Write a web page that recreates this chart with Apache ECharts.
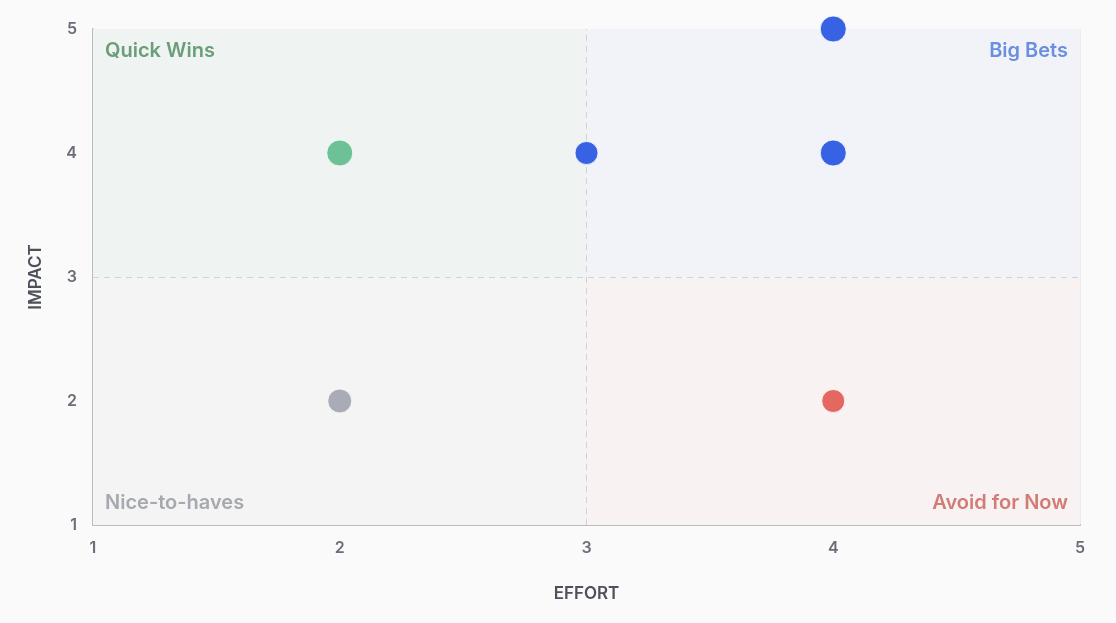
<!DOCTYPE html>
<html>
<head>
<meta charset="utf-8">
<script src="https://cdn.jsdelivr.net/npm/echarts@6/dist/echarts.min.js"></script>
<style>
  html, body { margin: 0; padding: 0; background: #fafafa; }
  #chart { width: 1116px; height: 623px; }
</style>
</head>
<body>
<div id="chart"></div>
<script>
// points: effort (x), impact (y)
const effort = [2, 3, 4, 4, 2, 4]
const impact = [4, 4, 5, 4, 2, 2]
const pointSize = [26, 23, 26, 26, 24, 23]

const quadrantNames = ['Quick Wins', 'Big Bets', 'Nice-to-haves', 'Avoid for Now']
const quadrantText = ['#6a9e7a', '#6b8fe0', '#a7a9b0', '#d27c76']
const quadrantFill = ['#eff3f1', '#f2f3f9', '#f4f4f5', '#f8f2f2']
const pointColor = ['#6cc197', '#3862e4', '#a9acb6', '#e36862']

const axisTicks = [1, 2, 3, 4, 5]
const midX = 3
const midY = 3

function quadrantOf(x, y) {
  if (y >= midY) return x < midX ? 0 : 1
  return x < midX ? 2 : 3
}

const chart = echarts.init(document.getElementById('chart'))

const labelPos = ['insideTopLeft', 'insideTopRight', 'insideBottomLeft', 'insideBottomRight']
const boxes = [
  [[1, 5], [midX, midY]],
  [[midX, 5], [5, midY]],
  [[1, midY], [midX, 1]],
  [[midX, midY], [5, 1]]
]

// one markArea per quadrant so each label keeps its own position
const quadrantSeries = boxes.map((box, i) => ({
  type: 'scatter',
  data: [],
  silent: true,
  markArea: {
    silent: true,
    z: 1,
    itemStyle: { color: quadrantFill[i] },
    label: {
      show: true, position: labelPos[i],
      color: quadrantText[i], fontSize: 20, fontWeight: 600,
      fontFamily: 'Inter', distance: 12
    },
    data: [[
      { name: quadrantNames[i], xAxis: box[0][0], yAxis: box[0][1] },
      { xAxis: box[1][0], yAxis: box[1][1] }
    ]]
  }
}))

const scatterData = effort.map((x, i) => {
  const q = quadrantOf(x, impact[i])
  return {
    value: [x, impact[i]],
    symbolSize: pointSize[i],
    itemStyle: { color: pointColor[q] }
  }
})

const option = {
  backgroundColor: '#fafafa',
  animation: false,
  grid: { left: 93, right: 36, top: 29, bottom: 98 },
  xAxis: {
    type: 'value', min: 1, max: 5, interval: 1,
    name: 'EFFORT', nameLocation: 'middle', nameGap: 60,
    nameTextStyle: { color: '#4e515b', fontSize: 17, fontWeight: 600, fontFamily: 'Inter' },
    axisLine: { show: true, lineStyle: { color: '#b9bcc3', width: 2 } },
    axisTick: { show: false },
    axisLabel: { color: '#6b6e78', fontSize: 16, fontWeight: 600, fontFamily: 'Inter', margin: 15 },
    splitLine: { show: true, lineStyle: { color: '#ebebeb' } }
  },
  yAxis: {
    type: 'value', min: 1, max: 5, interval: 1,
    name: 'IMPACT', nameLocation: 'middle', nameGap: 49, nameRotate: 90,
    nameTextStyle: { color: '#4e515b', fontSize: 17, fontWeight: 600, fontFamily: 'Inter' },
    axisLine: { show: true, lineStyle: { color: '#b9bcc3', width: 2 } },
    axisTick: { show: false },
    axisLabel: {
      color: '#6b6e78', fontSize: 16, fontWeight: 600, fontFamily: 'Inter', margin: 16,
      formatter: v => axisTicks.includes(v) ? String(v) : ''
    },
    splitLine: { show: true, lineStyle: { color: '#ebebeb' } }
  },
  series: quadrantSeries.concat([
    {
      type: 'scatter',
      data: scatterData,
      itemStyle: { opacity: 1, borderColor: 'rgba(255,255,255,0.8)', borderWidth: 1 },
      z: 5,
      markLine: {
        silent: true, symbol: 'none', label: { show: false },
        lineStyle: { color: '#cfd2d8', type: [6, 5], width: 1 },
        data: [{ xAxis: midX }, { yAxis: midY }]
      }
    }
  ])
}

chart.setOption(option)
</script>
</body>
</html>
